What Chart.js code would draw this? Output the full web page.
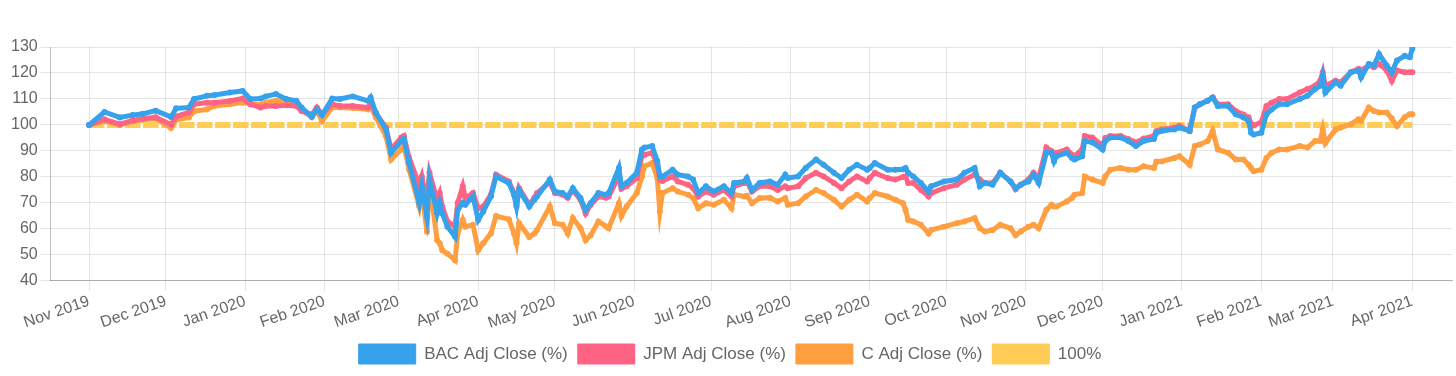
<!DOCTYPE html>
<html>
<head>
<meta charset="utf-8">
<script src="https://cdn.jsdelivr.net/npm/chart.js@4.4.1/dist/chart.umd.min.js"></script>
<style>
  html, body { margin: 0; padding: 0; background: #fff; }
  #wrap { width: 1456px; height: 376px; position: relative; }
</style>
</head>
<body>
<div id="wrap"><canvas id="chart"></canvas></div>
<script>
// trading days (not every day, roughly 2-3 per week)
const dates = [
  '2019-11-01','2019-11-07','2019-11-13','2019-11-18','2019-11-22','2019-11-27',
  '2019-12-03','2019-12-05','2019-12-10','2019-12-12','2019-12-17','2019-12-20','2019-12-26','2019-12-31',
  '2020-01-03','2020-01-07','2020-01-09','2020-01-13','2020-01-17','2020-01-21','2020-01-23','2020-01-27','2020-01-29','2020-01-31',
  '2020-02-04','2020-02-07','2020-02-12','2020-02-18','2020-02-19','2020-02-21','2020-02-25','2020-02-27',
  '2020-03-02','2020-03-03','2020-03-05','2020-03-09','2020-03-10','2020-03-12','2020-03-13','2020-03-16','2020-03-17','2020-03-18','2020-03-20','2020-03-23','2020-03-24','2020-03-26','2020-03-27','2020-03-30',
  '2020-04-01','2020-04-03','2020-04-06','2020-04-08','2020-04-13','2020-04-15','2020-04-16','2020-04-17','2020-04-21','2020-04-23','2020-04-24','2020-04-29',
  '2020-05-01','2020-05-04','2020-05-06','2020-05-08','2020-05-11','2020-05-13','2020-05-15','2020-05-18','2020-05-21','2020-05-22','2020-05-26','2020-05-27','2020-05-29',
  '2020-06-02','2020-06-04','2020-06-05','2020-06-08','2020-06-10','2020-06-11','2020-06-12','2020-06-16','2020-06-18','2020-06-22','2020-06-24','2020-06-26','2020-06-29',
  '2020-07-02','2020-07-06','2020-07-09','2020-07-10','2020-07-14','2020-07-15','2020-07-17','2020-07-20','2020-07-24','2020-07-27','2020-07-30','2020-07-31',
  '2020-08-04','2020-08-07','2020-08-11','2020-08-14','2020-08-18','2020-08-21','2020-08-24','2020-08-27','2020-08-31',
  '2020-09-01','2020-09-03','2020-09-08','2020-09-11','2020-09-14','2020-09-15','2020-09-16','2020-09-18','2020-09-21','2020-09-24','2020-09-25','2020-09-30',
  '2020-10-05','2020-10-08','2020-10-12','2020-10-14','2020-10-16','2020-10-19','2020-10-22','2020-10-26','2020-10-28','2020-10-30',
  '2020-11-02','2020-11-04','2020-11-06','2020-11-09','2020-11-11','2020-11-12','2020-11-13','2020-11-17','2020-11-19','2020-11-20','2020-11-23','2020-11-24','2020-11-27',
  '2020-12-01','2020-12-02','2020-12-04','2020-12-08','2020-12-11','2020-12-14','2020-12-17','2020-12-21','2020-12-22','2020-12-24','2020-12-29','2020-12-31',
  '2021-01-04','2021-01-06','2021-01-08','2021-01-11','2021-01-13','2021-01-15','2021-01-19','2021-01-22','2021-01-25','2021-01-27','2021-01-28','2021-01-29',
  '2021-02-01','2021-02-03','2021-02-05','2021-02-08','2021-02-11','2021-02-16','2021-02-19','2021-02-22','2021-02-24','2021-02-25','2021-02-26',
  '2021-03-02','2021-03-04','2021-03-08','2021-03-11','2021-03-12','2021-03-15','2021-03-17','2021-03-19','2021-03-22','2021-03-24','2021-03-26','2021-03-29','2021-03-31','2021-04-01'
];

const bac = [
  100,105,102.9,103.8,104.3,105.5,
  103.1,106.4,106.7,110,111.2,111.5,112.5,113.1,
  110,110.2,111,111.9,110,109.3,106.7,103.2,106,103.8,
  110.2,110,111,109.3,110.6,104.8,98.3,89.3,
  93.8,94.6,85.5,70,76.4,64.7,79,66,70,66,60.9,57,67.3,70,69.3,72.5,
  63.5,66.7,72.5,80.2,77.7,73.2,68.6,75,68.6,71.2,72.5,79,
  74.4,73.8,72.5,75.7,71.9,67.3,70,73.8,73.2,73.8,83.5,76.4,77.7,
  81.6,90.6,91.3,91.9,86.1,80.2,80.2,82.8,80.9,80.2,79,73.8,76.4,
  74.4,76.4,73.8,77.7,78.3,79.6,75,77.7,78.3,77,80.9,79.6,
  80.2,83.5,86.7,84.7,81.6,79.6,82.8,84.7,82.8,
  83.5,85.4,82.8,82.8,83,83.5,81.6,80.2,77.7,74.4,76.4,78.3,
  79,81.6,83.5,76.4,77.7,77,81.6,78.3,75.7,77,
  78.3,80.9,77.7,89.3,89.3,86,88,89.3,87.3,86.7,88,93.8,93.3,
  90.6,93.8,95.2,95.2,93.8,91.9,93.8,94.6,97,97.7,98.3,99,
  97.7,106.7,108,109.3,110.6,107.3,107.3,104.1,102.9,101.6,97,96.3,
  97,104.1,106,108,108,110,111.2,113.8,115.1,119,112.5,
  116.4,115.1,120.3,121,118.3,123.5,122.9,127.3,122.9,120.3,124.8,126.6,126.1,129.3
];

const jpm = [
  100,102.2,100.3,101.8,102.5,103,
  100.2,103.3,104.8,108,108.6,108.6,109.2,110.2,
  108,106.7,107.3,107.3,107.6,107.3,105.4,104,106.7,104,
  108,107.3,107.3,106.7,108.6,104.5,99,90.6,
  95.2,95.8,87.5,77,80.2,70,81.6,71.2,73.8,68.6,62.9,60.9,70,76.4,72,73.8,
  68,68.6,73.2,80.9,78.3,73.8,69.3,75.7,69.3,72,73.8,78,
  73.8,73.2,72,75,71.2,66,69.3,72.5,72,72.5,80.2,75.5,76.4,
  79.6,88,88.6,89.3,84.7,79,78.5,80.2,78.3,77,75.7,72.5,74.4,
  73.2,75,72.5,76.4,77.7,78.3,74.4,76.4,76.4,75,76.4,75.7,
  76.4,79.6,81.6,80.2,77.7,75.7,78.3,80.2,78.3,
  79.6,81.6,79.6,79,80,80.2,77.7,77.7,75,72.5,73.8,75.7,
  77,79,80.9,79,77.7,77.7,81.6,78.3,75.3,77,
  79,81.6,79.5,91.3,90,87.5,89.3,90.6,88.6,88,90.6,95.8,95.2,
  92,95,95.8,95.8,94.6,93.3,94.8,95.8,97.7,98.3,99,99.6,
  97.7,106.7,108,109.3,110.6,108,108,105.4,104,103,100.5,99.8,
  101.1,107.3,108.6,110,110,112.5,113.8,115.1,117,120.3,115.1,
  117,116.4,120.3,121.6,121,122.9,122.2,123.5,121,117,121,120.3,120.3,120.3
];

const citi = [
  100,101.5,100,101.3,102,102.5,
  98.8,102,102.9,105.3,106,107.3,108,108.6,
  108.3,107.8,108.6,109.3,109.3,108.6,106,103,105.4,101.6,
  106.7,106.7,106.5,106,107.3,103,95.7,86.7,
  90.6,92,83,68.6,75,58.9,78,55.7,54.5,51.8,50.5,48,58.3,63.5,60.9,61.6,
  51.8,54.5,58.3,65,63.7,58.3,54.5,62.2,56.9,58.3,59.6,68.6,
  62.2,61.6,58.3,64.2,60.3,55.7,57.6,62.9,61,60.3,69.9,65,68.6,
  73.8,80.2,84.1,85.4,79.6,66.7,73.8,75.7,74.4,73.2,71.9,68,69.9,
  69.3,71.2,68,73.2,72.5,72.8,69.9,71.9,72,70.6,71.9,69.3,
  69.9,72.5,75,73.8,71.2,68.6,71.2,73.2,70.6,
  71.9,73.8,72.5,71.2,69.9,67.3,63.5,62.9,61.6,58.3,59.6,60.9,
  62.2,62.9,64.2,60.3,59,59.6,61.6,60.3,57.6,59,
  60.9,61.6,60.3,67.3,69.3,68.6,68.6,70.6,71.9,73.2,73.8,80.2,79,
  77.7,80.2,82.8,83.5,82.8,82.8,84.1,83.5,86,86,87.3,88,
  84.7,91.9,92.5,93.8,97.7,90.6,89.3,86.7,86.7,84.7,83.5,82.2,
  82.8,87.3,89.3,90.6,90.6,91.9,91.3,93.8,93.8,98.3,93.1,
  98.3,99,100.3,102.2,101.6,106.7,105.4,104.8,104.8,102.5,99.6,103,104.1,104.1
];

const baseline = 100;

const tickDates = [
  '2019-11-01','2019-12-01','2020-01-01','2020-02-01','2020-03-01','2020-04-01',
  '2020-05-01','2020-06-01','2020-07-01','2020-08-01','2020-09-01','2020-10-01',
  '2020-11-01','2020-12-01','2021-01-01','2021-02-01','2021-03-01','2021-04-01'
];
const tickLabels = [
  'Nov 2019','Dec 2019','Jan 2020','Feb 2020','Mar 2020','Apr 2020',
  'May 2020','Jun 2020','Jul 2020','Aug 2020','Sep 2020','Oct 2020',
  'Nov 2020','Dec 2020','Jan 2021','Feb 2021','Mar 2021','Apr 2021'
];

// days since the first date, so the x axis keeps calendar spacing
const t0 = Date.parse(dates[0] + 'T00:00:00Z');
const dayOf = s => (Date.parse(s + 'T00:00:00Z') - t0) / 86400000;

const toPoints = vals => vals.map((v, i) => ({ x: dayOf(dates[i]), y: v }));

const FONT = '"Liberation Sans", Arial, Helvetica, sans-serif';
const GREY = '#666';

function series(label, color, vals) {
  return {
    label,
    data: toPoints(vals),
    borderColor: color,
    backgroundColor: color,
    borderWidth: 5,
    pointRadius: 3,
    pointBorderWidth: 0,
    pointBackgroundColor: color,
    tension: 0,
    fill: false
  };
}

const firstTick = dayOf(tickDates[0]);
const lastTick = dayOf(tickDates[tickDates.length - 1]);
const padLeft = (dayOf(tickDates[1]) - firstTick) / 2;
const padRight = (lastTick - dayOf(tickDates[tickDates.length - 2])) / 2;

new Chart(document.getElementById('chart'), {
  type: 'line',
  data: {
    datasets: [
      series('BAC Adj Close (%)', '#36a2eb', bac),
      series('JPM Adj Close (%)', '#ff6384', jpm),
      series('C Adj Close (%)', '#ff9f40', citi),
      {
        label: '100%',
        data: dates.map(d => ({ x: dayOf(d), y: baseline })),
        borderColor: '#ffcd56',
        backgroundColor: '#ffcd56',
        borderWidth: 6,
        borderDash: [15.5, 2.5],
        pointRadius: 0,
        fill: false
      }
    ]
  },
  options: {
    responsive: true,
    maintainAspectRatio: false,
    animation: false,
    layout: { padding: { top: 47, left: 8, right: 4, bottom: 2 } },
    plugins: {
      tooltip: { enabled: false },
      legend: {
        position: 'bottom',
        labels: {
          boxWidth: 57,
          boxHeight: 20,
          padding: 10,
          color: GREY,
          font: { family: FONT, size: 17 },
          generateLabels: chart => {
            const items = Chart.defaults.plugins.legend.labels.generateLabels(chart);
            items.forEach(it => { it.lineDash = []; it.lineWidth = 1; });
            return items;
          }
        }
      }
    },
    scales: {
      x: {
        type: 'linear',
        min: firstTick - padLeft,
        max: lastTick + padRight,
        afterBuildTicks: scale => {
          scale.ticks = tickDates.map(d => ({ value: dayOf(d) }));
        },
        ticks: {
          autoSkip: false,
          minRotation: 19,
          maxRotation: 19,
          padding: 1,
          color: GREY,
          font: { family: FONT, size: 16 },
          callback: (v, i) => tickLabels[i]
        },
        grid: { color: 'rgba(0,0,0,0.1)', tickLength: 10 },
        border: { color: 'rgba(0,0,0,0.25)' }
      },
      y: {
        min: 40,
        max: 130,
        ticks: {
          stepSize: 10,
          padding: 3,
          color: GREY,
          font: { family: FONT, size: 16 }
        },
        grid: { color: 'rgba(0,0,0,0.1)', tickLength: 10 },
        border: { color: 'rgba(0,0,0,0.25)' }
      }
    }
  }
});
</script>
</body>
</html>
